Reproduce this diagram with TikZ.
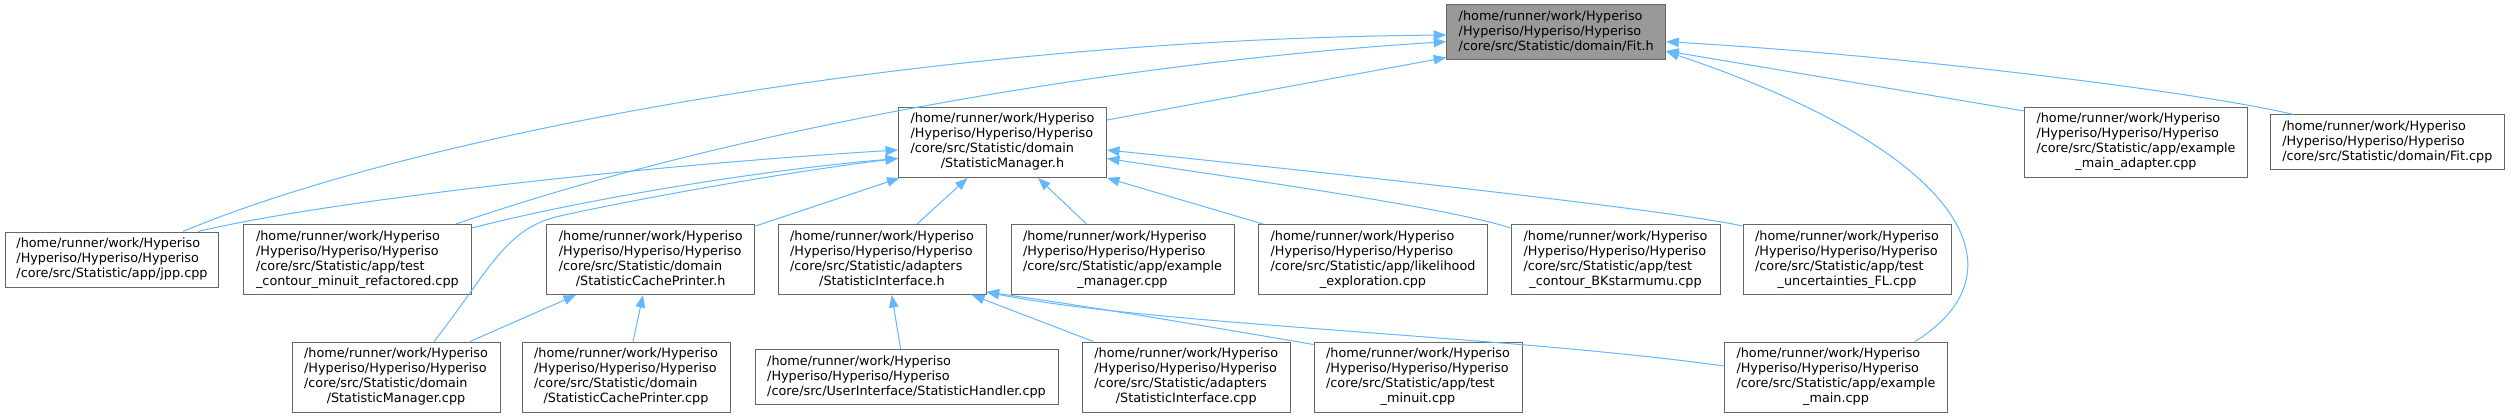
\documentclass[tikz,border=0pt]{standalone}
\usepackage{fontspec}
\setmainfont{DejaVu Sans}
\usetikzlibrary{arrows.meta,calc}
\definecolor{edgeblue}{HTML}{63B8FF}
\definecolor{nodeborder}{HTML}{666666}
\definecolor{rootfill}{HTML}{999999}
\newcommand\lbl[2]{\begin{tabular}{@{}l@{}}#1\\\multicolumn{1}{@{}c@{}}{#2}\end{tabular}}
\newcommand\hp{/home/runner/work/Hyperiso\\/Hyperiso/Hyperiso/Hyperiso}
\begin{document}
\begin{tikzpicture}[x=1pt,y=-1pt,
  box/.style={draw=nodeborder,line width=1pt,fill=white,inner sep=0pt,minimum width=#1,minimum height=70pt,font=\fontsize{12.8}{15}\selectfont,text=black},
  box3/.style={box=#1,minimum height=55pt},
  dep/.style={draw=edgeblue,line width=1pt,-{Triangle[length=12.5pt,width=9.5pt]}}]
\fill[white] (0,0) rectangle (2512,417);
\useasboundingbox (0,0) rectangle (2512,417);
% row 0
\node[box3=219pt,fill=rootfill] (Fit) at (1556.2,32.5) {\lbl{\hp}{/core/src/Statistic/domain/Fit.h}};
% row 1
\node[box=208pt] (SMh) at (1002.5,142.5) {\lbl{\hp\\/core/src/Statistic/domain}{/StatisticManager.h}};
\node[box=222.5pt] (adapter) at (2136,142.5) {\lbl{\hp\\/core/src/Statistic/app/example}{\_main\_adapter.cpp}};
\node[box3=234.5pt] (Fitcpp) at (2387.3,142.5) {\lbl{\hp}{/core/src/Statistic/domain/Fit.cpp}};
% row 2
\node[box3=213pt] (jpp) at (112,259.5) {\lbl{\hp}{/core/src/Statistic/app/jpp.cpp}};
\node[box=228pt] (tcm) at (357.4,259.5) {\lbl{\hp\\/core/src/Statistic/app/test}{\_contour\_minuit\_refactored.cpp}};
\node[box=208.5pt] (SCPh) at (650.7,259.5) {\lbl{\hp\\/core/src/Statistic/domain}{/StatisticCachePrinter.h}};
\node[box=208pt] (SIh) at (882,259.5) {\lbl{\hp\\/core/src/Statistic/adapters}{/StatisticInterface.h}};
\node[box=223pt] (exman) at (1122.5,259.5) {\lbl{\hp\\/core/src/Statistic/app/example}{\_manager.cpp}};
\node[box=229pt] (lik) at (1373,259.5) {\lbl{\hp\\/core/src/Statistic/app/likelihood}{\_exploration.cpp}};
\node[box=209pt] (BK) at (1615.5,259.5) {\lbl{\hp\\/core/src/Statistic/app/test}{\_contour\_BKstarmumu.cpp}};
\node[box=208pt] (FL) at (1847,259.5) {\lbl{\hp\\/core/src/Statistic/app/test}{\_uncertainties\_FL.cpp}};
% row 3
\node[box=208pt] (SMcpp) at (396,377) {\lbl{\hp\\/core/src/Statistic/domain}{/StatisticManager.cpp}};
\node[box=208pt] (SCPcpp) at (626,377) {\lbl{\hp\\/core/src/Statistic/domain}{/StatisticCachePrinter.cpp}};
\node[box3=303pt] (SH) at (906.5,377) {\lbl{\hp}{/core/src/UserInterface/StatisticHandler.cpp}};
\node[box=208.6pt] (SIcpp) at (1186.3,377) {\lbl{\hp\\/core/src/Statistic/adapters}{/StatisticInterface.cpp}};
\node[box=208pt] (tmin) at (1418,377) {\lbl{\hp\\/core/src/Statistic/app/test}{\_minuit.cpp}};
\node[box=222.5pt] (exmain) at (1836,377) {\lbl{\hp\\/core/src/Statistic/app/example}{\_main.cpp}};
% edges to Fit.h
\draw[dep] ($(jpp.north)+(71,0)$) .. controls (400,140) and (900,40) .. ($(Fit.west)+(0,2.5)$);
\draw[dep] ($(tcm.north)+(98.6,0)$) .. controls (756,121) and (1150,60) .. ($(Fit.west)+(0,9.2)$);
\draw[dep] ($(SMh.north east)+(0,13)$) -- ($(Fit.south west)+(0,-3)$);
\draw[dep] ($(Fitcpp.north west)+(24,0)$) .. controls (2200,92) and (1900,55) .. ($(Fit.east)+(0,9.2)$);
\draw[dep] ($(adapter.north west)+(0,4)$) -- ($(Fit.east)+(0,18.5)$);
\draw[dep] ($(exmain.north)+(79,0)$) .. controls (2030,270) and (1960,150) .. ($(Fit.east)+(0,19)$);
% edges to StatisticManager.h
\draw[dep] ($(jpp.north)+(86,0)$) .. controls (330,200) and (650,165) .. ($(SMh.west)+(0,7.5)$);
\draw[dep] ($(tcm.north east)+(0,4)$) .. controls (580,200) and (760,170) .. ($(SMh.west)+(0,16)$);
\draw[dep] ($(SMcpp.north)+(38,0)$) .. controls (490,270) and (505,228) .. (560,216) .. controls (640,198) and (800,170) .. ($(SMh.west)+(0,16)$);
\draw[dep] ($(SCPh.north east)+(0,2)$) -- ($(SMh.south west)+(1.5,0)$);
\draw[dep] ($(SIh.north)+(35,0)$) -- ($(SMh.south)+(-35,0)$);
\draw[dep] ($(exman.north)+(-36,0)$) -- ($(SMh.south)+(35.5,0)$);
\draw[dep] ($(lik.north west)+(5,0)$) -- (SMh.south east);
\draw[dep] ($(BK.north west)+(0,4)$) .. controls (1450,208) and (1250,180) .. ($(SMh.east)+(0,16)$);
\draw[dep] ($(FL.north west)+(0,2)$) .. controls (1680,212) and (1400,180) .. ($(SMh.east)+(0,7.5)$);
% edges to StatisticCachePrinter.h
\draw[dep] ($(SMcpp.north)+(74,0)$) -- ($(SCPh.south)+(-74.7,0)$);
\draw[dep] ($(SCPcpp.north)+(7,0)$) -- ($(SCPh.south)+(-7.7,0)$);
% edges to StatisticInterface.h
\draw[dep] ($(SH.north)+(-5.8,0)$) -- ($(SIh.south)+(9.7,0)$);
\draw[dep] ($(SIcpp.north)+(-93,0)$) -- ($(SIh.south)+(90,0)$);
\draw[dep] ($(tmin.north west)+(0,3)$) .. controls (1200,325) and (1080,305) .. ($(SIh.south east)+(0,-3)$);
\draw[dep] ($(exmain.west)+(0,-11)$) .. controls (1500,335) and (1150,325) .. ($(SIh.south east)+(0,-3)$);
\end{tikzpicture}
\end{document}
